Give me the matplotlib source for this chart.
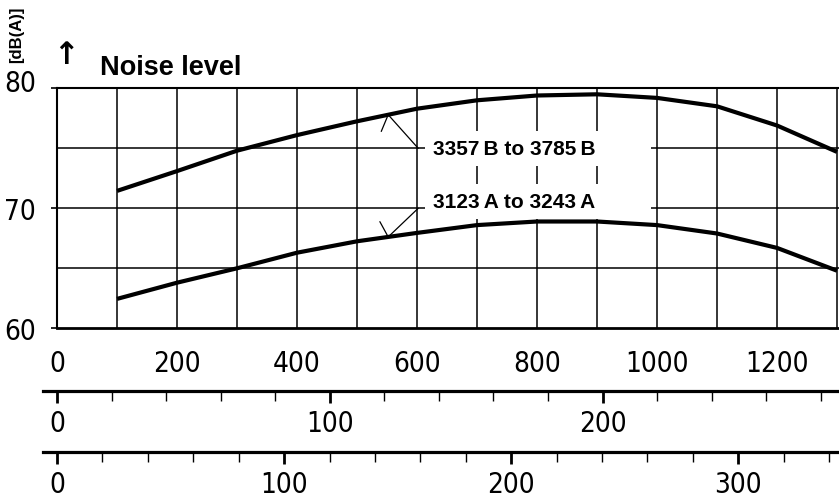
import numpy as np
import matplotlib
matplotlib.use("Agg")
import matplotlib.pyplot as plt
from matplotlib.ticker import FixedLocator, MultipleLocator, NullFormatter
import matplotlib.transforms as mtransforms
from matplotlib import font_manager as fm

# ---------------- data ----------------
flow_lpm = [100, 200, 300, 400, 500, 600, 700, 800, 900, 1000, 1100, 1200, 1300]
noise_B = [71.45, 73.1, 74.8, 76.1, 77.25, 78.3, 79.0, 79.4, 79.5, 79.2, 78.5, 76.9, 74.7]
noise_A = [62.45, 63.8, 65.0, 66.3, 67.25, 67.95, 68.6, 68.9, 68.9, 68.6, 67.9, 66.7, 64.8]
label_B = "3357\u2009B to 3785\u2009B"
label_A = "3123\u2009A to 3243\u2009A"

main_ticks = [0, 200, 400, 600, 800, 1000, 1200]
y_ticks = [60, 70, 80]
y_grid = [65, 70, 75]
x_grid = [100, 200, 300, 400, 500, 600, 700, 800, 900, 1000, 1100, 1200, 1300]
ukgal_ticks = [0, 100, 200]
usgal_ticks = [0, 100, 200, 300]
L_PER_UKGAL = 4.546
L_PER_USGAL = 3.785

# ---------------- layout helpers (pixels) ----------------
W, H = 839, 502
fig = plt.figure(figsize=(W / 100, H / 100), dpi=100)
fig.patch.set_facecolor("white")

SANS = ["Liberation Sans", "DejaVu Sans"]
num_font = fm.FontProperties(family="DejaVu Sans", stretch="condensed", size=20)
NUMFP = fm.FontProperties(fname=fm.findfont(num_font), size=20)

x0_px, x1_px = 57.0, 845.0          # main axes horizontal extent
px_per_l = 0.6
top_px, bot_px = 89.3, 329.3

ax = fig.add_axes([x0_px / W, 1 - bot_px / H, (x1_px - x0_px) / W, (bot_px - top_px) / H])
ax.set_xlim(0, (x1_px - x0_px) / px_per_l)
ax.set_ylim(60, 80)
ax.set_facecolor("none")

for xv in x_grid:
    ax.axvline(xv, color="black", lw=1.1, zorder=1)
for yv in y_grid:
    ax.axhline(yv, color="black", lw=1.1, zorder=1)

ax.plot(flow_lpm, noise_B, color="black", lw=3.0, solid_capstyle="butt", zorder=3)
ax.plot(flow_lpm, noise_A, color="black", lw=3.0, solid_capstyle="butt", zorder=3)

ax.spines["right"].set_visible(False)
ax.spines["top"].set_linewidth(1.5)
ax.spines["left"].set_linewidth(1.5)
ax.spines["bottom"].set_linewidth(2.0)

ax.xaxis.set_major_locator(FixedLocator(main_ticks))
ax.xaxis.set_minor_locator(FixedLocator([0]))
ax.tick_params(axis="x", which="major", length=0, pad=15)
ax.tick_params(axis="x", which="minor", length=10, width=1.5, direction="out")
for t in ax.get_xticklabels():
    t.set_fontproperties(NUMFP)

ax.yaxis.set_major_locator(FixedLocator(y_ticks))
ax.yaxis.set_minor_locator(FixedLocator([60]))
ax.yaxis.set_minor_formatter(NullFormatter())
ax.tick_params(axis="y", which="major", length=4, width=1.2, pad=11)
ax.tick_params(axis="y", which="minor", length=11, width=2.0)
for t in ax.get_yticklabels():
    t.set_fontproperties(NUMFP)
ylabs = ax.get_yticklabels()
ylabs[-1].set_transform(ylabs[-1].get_transform() +
                        mtransforms.ScaledTranslation(0, 8 / 100, fig.dpi_scale_trans))

# curve labels with white background (box extends to the right like the original)
pad_tail = "\u2003\u2003 "
ax.text((433 - x0_px) / px_per_l, 75, label_B + pad_tail, ha="left", va="center",
        fontsize=15, fontweight="bold", family=SANS, zorder=4,
        bbox=dict(boxstyle="square,pad=0.38", fc="white", ec="none"))
ax.text((433 - x0_px) / px_per_l, 70.6, label_A + pad_tail, ha="left", va="center",
        fontsize=15, fontweight="bold", family=SANS, zorder=4,
        bbox=dict(boxstyle="square,pad=0.38", fc="white", ec="none"))

# leader lines
apex_x = 552
tail_x = 602
yB = np.interp(apex_x, flow_lpm, noise_B)
yA = np.interp(apex_x, flow_lpm, noise_A)
lp = dict(arrowstyle="-", lw=0.9, color="black", shrinkA=0, shrinkB=0)
ax.annotate("", xy=(apex_x, yB), xytext=(tail_x, 75), arrowprops=lp, zorder=5)
ax.annotate("", xy=(apex_x, yB), xytext=(-5, -12), textcoords="offset points", arrowprops=lp, zorder=5)
ax.annotate("", xy=(apex_x, yA), xytext=(tail_x, 70), arrowprops=lp, zorder=5)
ax.annotate("", xy=(apex_x, yA), xytext=(-6, 11), textcoords="offset points", arrowprops=lp, zorder=5)

# ---------------- secondary scales ----------------
def scale_axis(line_px, factor, major, tlab_pad):
    left_px = 43.0
    a = fig.add_axes([left_px / W, 1 - line_px / H, (x1_px - left_px) / W, 1 / H])
    lo = (left_px - x0_px) / px_per_l / factor
    hi = (x1_px - x0_px) / px_per_l / factor
    a.set_xlim(lo, hi)
    a.set_facecolor("none")
    for s in ["top", "left", "right"]:
        a.spines[s].set_visible(False)
    a.spines["bottom"].set_linewidth(2.3)
    a.set_yticks([])
    a.xaxis.set_major_locator(FixedLocator(major))
    a.xaxis.set_minor_locator(MultipleLocator(20))
    a.tick_params(axis="x", which="major", length=8.5, width=2.0, pad=tlab_pad)
    a.tick_params(axis="x", which="minor", length=7, width=1.0)
    for t in a.get_xticklabels():
        t.set_fontproperties(NUMFP)
    return a

scale_axis(391.7, L_PER_UKGAL, ukgal_ticks, 4.5)
scale_axis(453.3, L_PER_USGAL, usgal_ticks, 4)

# ---------------- header ----------------
fig.text(17 / W, 1 - 35 / H, "[dB(A)]", rotation=90, ha="center", va="center",
         fontsize=12, fontweight="bold", family=SANS)
fig.text(66 / W, 1 - 56 / H, "\u2191", ha="center", va="center",
         fontsize=22, fontweight="bold", family=["DejaVu Sans"])
fig.text(100 / W, 1 - 75 / H, "Noise level", ha="left", va="baseline",
         fontsize=19.5, fontweight="bold", family=SANS)

fig.savefig("out.png", dpi=100, facecolor="white")
